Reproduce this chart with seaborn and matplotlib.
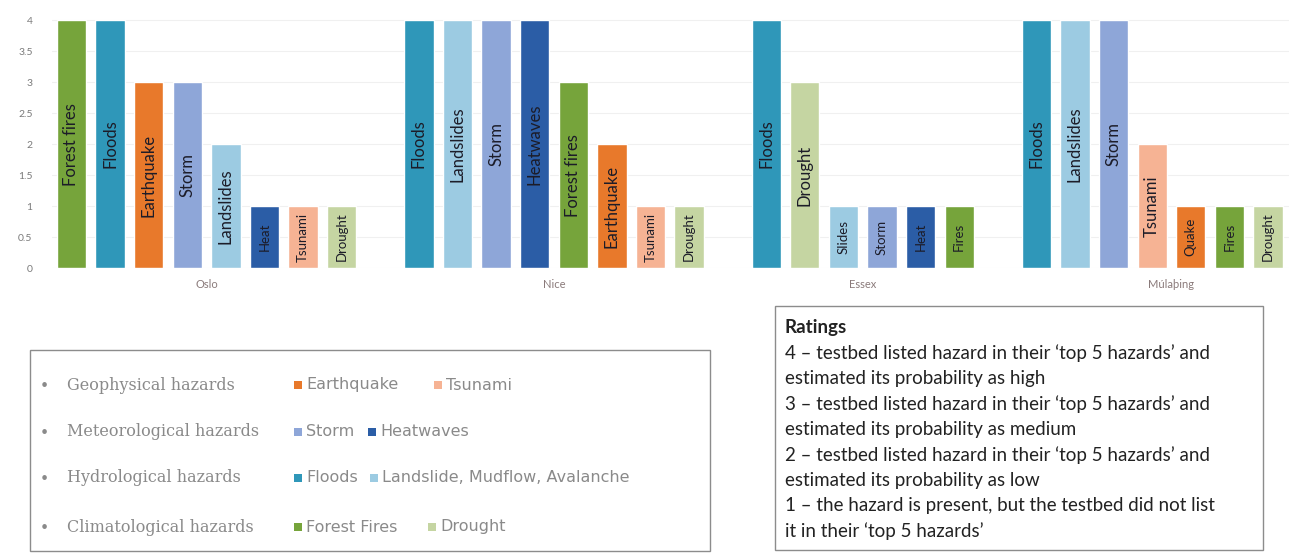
import matplotlib
matplotlib.use("Agg")
import matplotlib.pyplot as plt
from matplotlib.patches import Rectangle
import seaborn as sns
import pandas as pd

# ---- data -------------------------------------------------------------
testbeds = ["Oslo", "Nice", "Essex", "Múlaþing"]

# hazard key per bar, in plotting order for each testbed
hazards_oslo = ["fire", "flood", "quake", "storm", "slide", "heat", "tsunami", "drought"]
hazards_nice = ["flood", "slide", "storm", "heat", "fire", "quake", "tsunami", "drought"]
hazards_essex = ["flood", "drought", "slide", "storm", "heat", "fire"]
hazards_mula = ["flood", "slide", "storm", "tsunami", "quake", "fire", "drought"]

# text written inside each bar
names_oslo = ["Forest fires", "Floods", "Earthquake", "Storm", "Landslides", "Heat", "Tsunami", "Drought"]
names_nice = ["Floods", "Landslides", "Storm", "Heatwaves", "Forest fires", "Earthquake", "Tsunami", "Drought"]
names_essex = ["Floods", "Drought", "Slides", "Storm", "Heat", "Fires"]
names_mula = ["Floods", "Landslides", "Storm", "Tsunami", "Quake", "Fires", "Drought"]

# ratings (1-4)
ratings_oslo = [4, 4, 3, 3, 2, 1, 1, 1]
ratings_nice = [4, 4, 4, 4, 3, 2, 1, 1]
ratings_essex = [4, 3, 1, 1, 1, 1]
ratings_mula = [4, 4, 4, 2, 1, 1, 1]

y_ticks = [0, 0.5, 1, 1.5, 2, 2.5, 3, 3.5, 4]
y_tick_labels = ["0", "0.5", "1", "1.5", "2", "2.5", "3", "3.5", "4"]

hazard_colors = {
    "quake": "#e8792b",
    "tsunami": "#f6b394",
    "storm": "#8ea6d8",
    "heat": "#2b5da6",
    "flood": "#2f97b9",
    "slide": "#9ccbe2",
    "fire": "#76a43b",
    "drought": "#c5d5a2",
}

legend_rows = [
    ("Geophysical hazards", [("quake", "Earthquake"), ("tsunami", "Tsunami")]),
    ("Meteorological hazards", [("storm", "Storm"), ("heat", "Heatwaves")]),
    ("Hydrological hazards", [("flood", "Floods"), ("slide", "Landslide, Mudflow, Avalanche")]),
    ("Climatological hazards", [("fire", "Forest Fires"), ("drought", "Drought")]),
]

ratings_title = "Ratings"
ratings_lines = [
    "4 \u2013 testbed listed hazard in their \u2018top 5 hazards\u2019 and",
    "estimated its probability as high",
    "3 \u2013 testbed listed hazard in their \u2018top 5 hazards\u2019 and",
    "estimated its probability as medium",
    "2 \u2013 testbed listed hazard in their \u2018top 5 hazards\u2019 and",
    "estimated its probability as low",
    "1 \u2013 the hazard is present, but the testbed did not list",
    "it in their \u2018top 5 hazards\u2019",
]

# ---- assemble long table: one slot per bar, a blank slot between testbeds
group_hazards = [hazards_oslo, hazards_nice, hazards_essex, hazards_mula]
group_names = [names_oslo, names_nice, names_essex, names_mula]
group_ratings = [ratings_oslo, ratings_nice, ratings_essex, ratings_mula]
group_span = [8, 8, 6, 8]  # category slots reserved under each testbed label

rows = []
centers = []
start = 0
for tb, hz, nm, rt, span in zip(testbeds, group_hazards, group_names, group_ratings, group_span):
    for k, (h, n, r) in enumerate(zip(hz, nm, rt)):
        rows.append({"testbed": tb, "hazard": h, "name": n, "rating": r, "slot": start + k})
    centers.append(start + (span - 1) / 2)
    start += len(hz) + 1
df = pd.DataFrame(rows)

# ---- figure ------------------------------------------------------------
W, H = 1289, 553
sns.set_theme(style="white")
plt.rcParams["font.family"] = ["Lato", "DejaVu Sans"]

fig = plt.figure(figsize=(W / 100, H / 100), dpi=100)

def fx(px):
    return px / W

def fy(py):
    return 1 - py / H

ax = fig.add_axes([fx(52), fy(268), fx(1289) - fx(52), fy(14) - fy(268)])

sns.barplot(
    data=df, x="slot", y="rating", hue="hazard", palette=hazard_colors,
    native_scale=True, dodge=False, width=0.76, legend=False, ax=ax,
    saturation=1.0, zorder=3,
)

for _, r in df.iterrows():
    fs = 12 if r["rating"] >= 2 else 9.5
    ax.text(r["slot"], r["rating"] / 2, r["name"], rotation=90, ha="center",
            va="center", fontsize=fs, color="#1c1c28", zorder=4)

ax.set_xlim(-0.505, 31.545)
ax.set_ylim(0, 4.1)
ax.set_yticks(y_ticks)
ax.set_yticklabels(y_tick_labels, fontsize=7.5, color="#7a7a7a")
ax.set_xticks(centers)
ax.set_xticklabels(testbeds, fontsize=8, color="#8a7a7a")
ax.tick_params(axis="both", length=0, pad=14)
ax.tick_params(axis="x", pad=8)
ax.yaxis.grid(True, color="#f0f0f0", linewidth=0.8, zorder=0)
ax.set_xlabel("")
ax.set_ylabel("")
for s in ax.spines.values():
    s.set_visible(False)

# ---- hazard legend box -------------------------------------------------
fig.patches.append(Rectangle((fx(30), fy(551)), fx(710) - fx(30), fy(350) - fy(551),
                             transform=fig.transFigure, fill=False,
                             edgecolor="#8c8c8c", linewidth=1.0))
row_y = [385, 432, 478, 527]
first_x = [298, 298, 298, 298]
second_x = [438, 372, 374, 432]
for (cat, items), y, x1, x2 in zip(legend_rows, row_y, first_x, second_x):
    fig.text(fx(44), fy(y), "\u2022", fontsize=9, color="#8a8a8a", va="center", ha="center")
    fig.text(fx(67), fy(y), cat, fontsize=11.5, color="#8a8a8a", va="center",
             family=["DejaVu Serif"])
    for (key, label), x in zip(items, [x1, x2]):
        fig.patches.append(Rectangle((fx(x - 4), fy(y + 4)), fx(8), fy(y - 4) - fy(y + 4),
                                     transform=fig.transFigure,
                                     facecolor=hazard_colors[key], edgecolor="none"))
        fig.text(fx(x + 8), fy(y), label, fontsize=11.5, color="#8a8a8a", va="center",
                 family=["DejaVu Sans"])

# ---- ratings box -------------------------------------------------------
fig.patches.append(Rectangle((fx(775), fy(550)), fx(1263) - fx(775), fy(306) - fy(550),
                             transform=fig.transFigure, fill=False,
                             edgecolor="#8c8c8c", linewidth=1.0))
fig.text(fx(785), fy(328), ratings_title, fontsize=13.5, color="#222222",
         va="center", fontweight="bold")
for i, line in enumerate(ratings_lines):
    fig.text(fx(785), fy(353 + 25.5 * i), line, fontsize=13.5, color="#222222", va="center")

fig.savefig("out.png", dpi=100)
